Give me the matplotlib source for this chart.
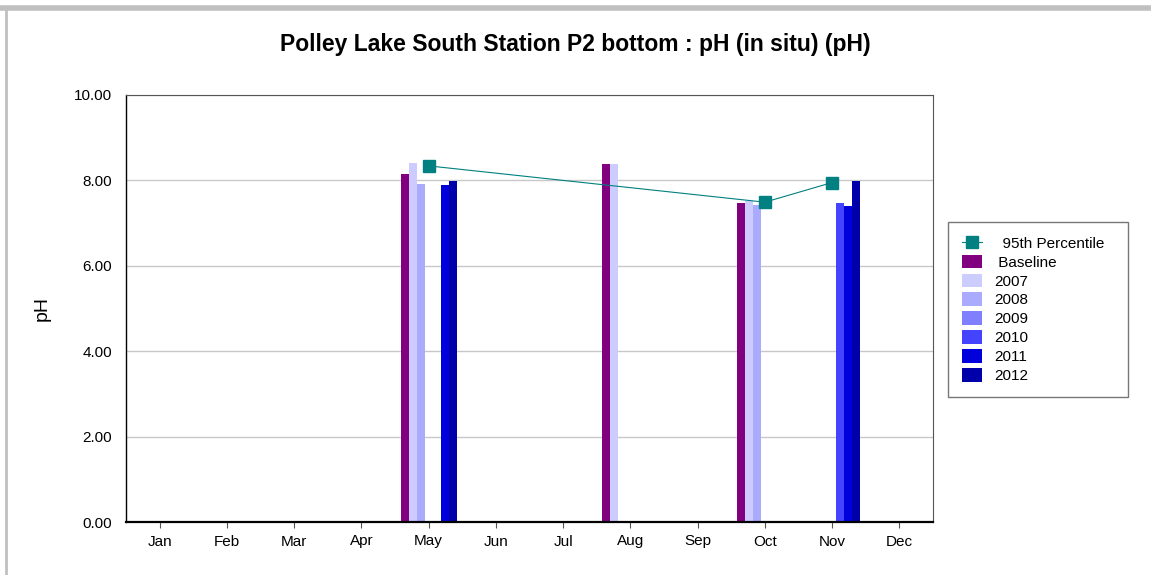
import matplotlib.pyplot as plt
import numpy as np

plt.rcParams['font.family'] = ['Liberation Sans', 'DejaVu Sans']

months = ["Jan", "Feb", "Mar", "Apr", "May", "Jun", "Jul", "Aug", "Sep", "Oct", "Nov", "Dec"]
series = ["Baseline", "2007", "2008", "2009", "2010", "2011", "2012"]
colors = ["#800080", "#ccccff", "#aaaaff", "#8080ff", "#4444ff", "#0000dd", "#0000aa"]
nan = np.nan

# values per series, one per month (NaN = no data)
baseline = [nan, nan, nan, nan, 8.15, nan, nan, 8.38, nan, 7.47, nan, nan]
y2007 = [nan, nan, nan, nan, 8.41, nan, nan, 8.38, nan, 7.52, nan, nan]
y2008 = [nan, nan, nan, nan, 7.92, nan, nan, nan, nan, 7.43, nan, nan]
y2009 = [nan] * 12
y2010 = [nan, nan, nan, nan, nan, nan, nan, nan, nan, nan, 7.46, nan]
y2011 = [nan, nan, nan, nan, 7.89, nan, nan, nan, nan, nan, 7.41, nan]
y2012 = [nan, nan, nan, nan, 7.99, nan, nan, nan, nan, nan, 7.99, nan]
pct95 = [nan, nan, nan, nan, 8.34, nan, nan, nan, nan, 7.49, 7.95, nan]

values = [baseline, y2007, y2008, y2009, y2010, y2011, y2012]

fig = plt.figure(figsize=(11.51, 5.75), dpi=100)
ax = fig.add_axes([126 / 1151, 1 - 522 / 575, (933 - 126) / 1151, (522 - 95) / 575])

x = np.arange(len(months))
w = 0.119
handles = []
for i, (name, vals, c) in enumerate(zip(series, values, colors)):
    b = ax.bar(x + (i - 3) * w, np.nan_to_num(vals, nan=0.0), width=w, color=c,
               label=name, zorder=2)
    handles.append(b)

p = np.array(pct95)
ok = ~np.isnan(p)
pl, = ax.plot(x[ok], p[ok], color="#008080", lw=0.8, marker="s", ms=9,
              markerfacecolor="#008080", markeredgecolor="#008080",
              label="95th Percentile", zorder=3)

ax.set_xlim(-0.5, 11.5)
ax.set_ylim(0, 10)
ax.set_xticks(x)
ax.set_xticklabels(months, fontsize=11)
ax.set_yticks(np.arange(0, 10.1, 2))
ax.set_yticklabels(["%.2f" % v for v in np.arange(0, 10.1, 2)], fontsize=11)
ax.yaxis.grid(True, color="#c8c8c8", lw=1, zorder=0)
ax.set_axisbelow(True)
ax.tick_params(axis="x", length=4, color="#555555", pad=5)
ax.tick_params(axis="y", length=0, pad=10)
for s in ["top", "right"]:
    ax.spines[s].set_color("#555555")
    ax.spines[s].set_linewidth(0.8)
ax.spines["left"].set_color("black")
ax.spines["left"].set_linewidth(1.0)
ax.spines["bottom"].set_color("black")
ax.spines["bottom"].set_linewidth(1.6)

ax.set_ylabel("pH", fontsize=14, labelpad=17)
fig.text(0.5, 1 - 44 / 575, "Polley Lake South Station P2 bottom : pH (in situ) (pH)",
         ha="center", va="center", fontsize=16.5, fontweight="bold")

leg = fig.legend([pl] + handles, ["  95th Percentile", " Baseline"] + series[1:],
                 loc="upper left", mode="expand",
                 bbox_to_anchor=(948 / 1151, 1 - 222 / 575, (1128 - 948) / 1151, 0.0),
                 fontsize=11, frameon=True, fancybox=False, edgecolor="#555555",
                 handlelength=1.3, handleheight=1.0, labelspacing=0.25,
                 borderpad=0.9, handletextpad=0.8, borderaxespad=0)
leg.get_frame().set_linewidth(1.0)

# gray frame around the image
fig.add_artist(plt.Line2D([0, 1], [1 - 8 / 575, 1 - 8 / 575], color="#c0c0c0", lw=4))
fig.add_artist(plt.Line2D([6 / 1151, 6 / 1151], [0, 1 - 8 / 575], color="#c0c0c0", lw=2))

fig.savefig("out.png", dpi=100)
